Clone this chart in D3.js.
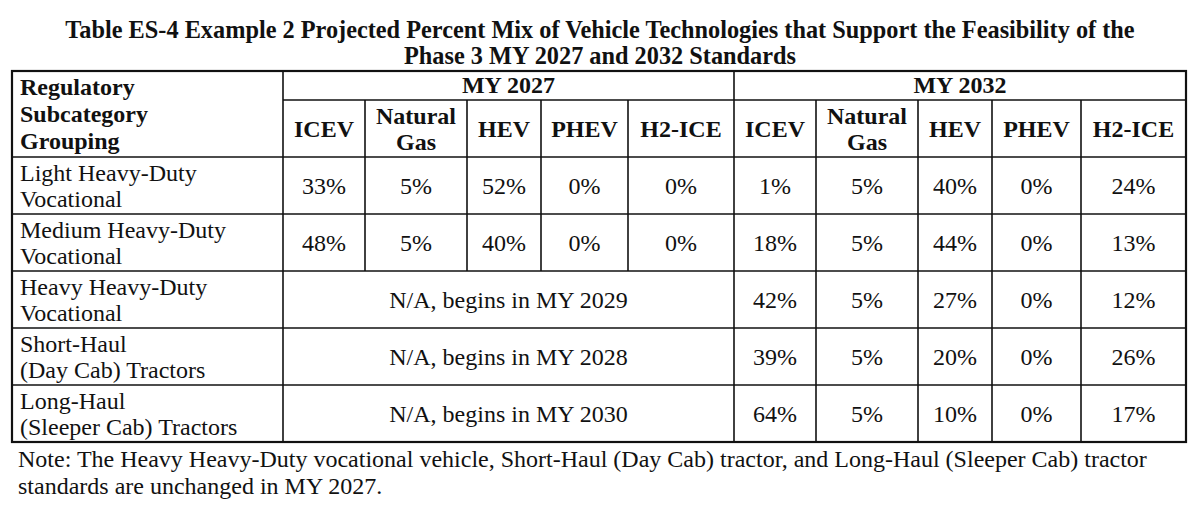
<!DOCTYPE html>
<html>
<head>
<meta charset="utf-8">
<script src="https://cdnjs.cloudflare.com/ajax/libs/d3/7.8.5/d3.min.js"></script>
<style>
  body { margin: 0; background: #fff; }
  svg text { font-family: "Liberation Serif", "Times New Roman", serif; fill: #111; }
</style>
</head>
<body>
<svg id="tbl" width="1200" height="515"></svg>
<script>
// table data
var titleLines = ["Table ES-4 Example 2 Projected Percent Mix of Vehicle Technologies that Support the Feasibility of the",
                  "Phase 3 MY 2027 and 2032 Standards"];
var groups = ["MY 2027", "MY 2032"];
var techs = [["ICEV"], ["Natural", "Gas"], ["HEV"], ["PHEV"], ["H2-ICE"]];
var stubHeader = ["Regulatory", "Subcategory", "Grouping"];
var categories = [
    ["Light Heavy-Duty", "Vocational"],
    ["Medium Heavy-Duty", "Vocational"],
    ["Heavy Heavy-Duty", "Vocational"],
    ["Short-Haul", "(Day Cab) Tractors"],
    ["Long-Haul", "(Sleeper Cab) Tractors"]
];
var my2027 = [
    [33, 5, 52, 0, 0],
    [48, 5, 40, 0, 0],
    null, null, null
];
var my2027Note = [null, null, "N/A, begins in MY 2029", "N/A, begins in MY 2028", "N/A, begins in MY 2030"];
var my2032 = [
    [1, 5, 40, 0, 24],
    [18, 5, 44, 0, 13],
    [42, 5, 27, 0, 12],
    [39, 5, 20, 0, 26],
    [64, 5, 10, 0, 17]
];
var noteLines = ["Note: The Heavy Heavy-Duty vocational vehicle, Short-Haul (Day Cab) tractor, and Long-Haul (Sleeper Cab) tractor",
                 "standards are unchanged in MY 2027."];

// layout
var colWidths = [271, 82, 102, 74, 87, 106, 82, 102, 74, 89, 105];
var tblLeft = 12, tblTop = 71, groupH = 29, headH = 57, rowH = 57;
var edges = [tblLeft].concat(Array.from(d3.cumsum(colWidths), function(d) { return d + tblLeft; }));
var tblRight = edges[edges.length - 1];
var fs = 24;

var svg = d3.select("#tbl");

svg.selectAll("text.title")
    .data(titleLines)
    .enter()
    .append("text")
    .attr("class", "title")
    .attr("x", 600)
    .attr("y", function(d, i) { return 38 + i * 26; })
    .attr("text-anchor", "middle")
    .style("font-weight", "bold")
    .style("font-size", "24.3px")
    .text(function(d) { return d; });

var bodyTop = tblTop + groupH + headH;
var y = d3.scaleBand()
    .domain(d3.range(categories.length))
    .range([bodyTop, bodyTop + rowH * categories.length]);
var tblBottom = y.range()[1];

// grid lines
var g = svg.append("g").attr("stroke", "#111").attr("fill", "none");
function rule(x1, y1, x2, y2, w) {
    g.append("line").attr("x1", x1).attr("y1", y1).attr("x2", x2).attr("y2", y2)
        .attr("stroke-width", w || 1.6);
}
// horizontals
rule(edges[1], tblTop + groupH, tblRight, tblTop + groupH);
rule(tblLeft, bodyTop, tblRight, bodyTop);
y.domain().slice(1).forEach(function(i) { rule(tblLeft, y(i), tblRight, y(i)); });
// verticals
rule(edges[1], tblTop, edges[1], tblBottom);
rule(edges[6], tblTop, edges[6], tblBottom);
[2, 3, 4, 5].forEach(function(c) {
    rule(edges[c], tblTop + groupH, edges[c], bodyTop + y.bandwidth() * 2);
});
[7, 8, 9, 10].forEach(function(c) {
    rule(edges[c], tblTop + groupH, edges[c], tblBottom);
});
g.append("rect").attr("x", tblLeft).attr("y", tblTop)
    .attr("width", tblRight - tblLeft).attr("height", tblBottom - tblTop)
    .attr("stroke-width", 2.2);

function center(c) { return (edges[c] + edges[c + 1]) / 2; }

// header
svg.selectAll("text.stub")
    .data(stubHeader)
    .enter()
    .append("text")
    .attr("class", "stub")
    .attr("x", 20)
    .attr("y", function(d, i) { return 95 + i * 27; })
    .style("font-weight", "bold")
    .style("font-size", fs + "px")
    .text(function(d) { return d; });

groups.forEach(function(gname, gi) {
    svg.append("text")
        .attr("x", (edges[1 + gi * 5] + edges[6 + gi * 5]) / 2)
        .attr("y", tblTop + 22)
        .attr("text-anchor", "middle")
        .style("font-weight", "bold")
        .style("font-size", fs + "px")
        .text(gname);
    techs.forEach(function(t, ti) {
        var c = 1 + gi * 5 + ti;
        var mid = tblTop + groupH + headH / 2;
        t.forEach(function(s, si) {
            svg.append("text")
                .attr("x", center(c))
                .attr("y", mid + 8 + (si - (t.length - 1) / 2) * 26)
                .attr("text-anchor", "middle")
                .style("font-weight", "bold")
                .style("font-size", fs + "px")
                .text(s);
        });
    });
});

// body
categories.forEach(function(cat, r) {
    cat.forEach(function(s, si) {
        svg.append("text")
            .attr("x", 20)
            .attr("y", y(r) + 24 + si * 26)
            .style("font-size", fs + "px")
            .text(s);
    });
    var mid = y(r) + y.bandwidth() / 2 + 8;
    if (my2027[r]) {
        my2027[r].forEach(function(v, ti) {
            svg.append("text").attr("x", center(1 + ti)).attr("y", mid)
                .attr("text-anchor", "middle").style("font-size", fs + "px").text(v + "%");
        });
    } else {
        svg.append("text").attr("x", (edges[1] + edges[6]) / 2).attr("y", mid)
            .attr("text-anchor", "middle").style("font-size", fs + "px").text(my2027Note[r]);
    }
    my2032[r].forEach(function(v, ti) {
        svg.append("text").attr("x", center(6 + ti)).attr("y", mid)
            .attr("text-anchor", "middle").style("font-size", fs + "px").text(v + "%");
    });
});

svg.selectAll("text.note")
    .data(noteLines)
    .enter()
    .append("text")
    .attr("class", "note")
    .attr("x", 18)
    .attr("y", function(d, i) { return tblBottom + 25 + i * 27; })
    .style("font-size", fs + "px")
    .text(function(d) { return d; });
</script>
</body>
</html>
